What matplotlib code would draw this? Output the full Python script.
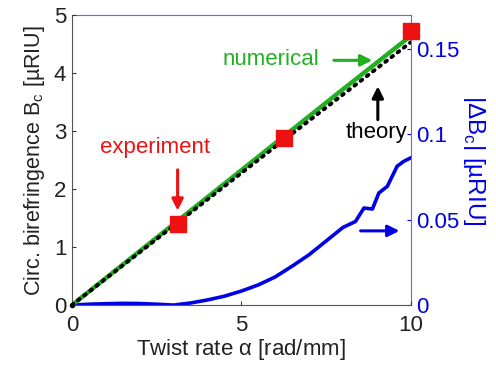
import matplotlib
matplotlib.use("Agg")
import matplotlib.pyplot as plt

plt.rcParams['font.family'] = ['Liberation Sans', 'DejaVu Sans']

# Data
exp_x = [3.14, 6.27, 10.0]
exp_y = [1.39, 2.88, 4.73]

num_x = [0, 2, 4, 6, 8, 10]
num_y = [0, 0.93, 1.86, 2.79, 3.72, 4.64]

theory_x = [0, 2, 4, 6, 8, 10]
theory_y = [0, 0.91, 1.82, 2.73, 3.63, 4.53]

diff_x = [0, 0.5, 1, 1.5, 2, 2.5, 3, 3.5, 4, 4.5, 5, 5.5, 6, 6.5, 7, 7.5, 8,
          8.37, 8.62, 8.87, 9.06, 9.31, 9.6, 9.8, 10]
diff_y = [0, 0.0005, 0.0008, 0.001, 0.0009, 0.0005, 0.0, 0.0012, 0.003, 0.0052,
          0.0082, 0.0118, 0.0165, 0.0228, 0.0295, 0.0375, 0.0455,
          0.049, 0.0569, 0.0563, 0.0657, 0.0696, 0.0814, 0.0843, 0.0863]

xticks = [0, 5, 10]
yticks_left = [0, 1, 2, 3, 4, 5]
yticks_right = [0, 0.05, 0.1, 0.15]
yticklabels_right = ['0', '0.05', '0.1', '0.15']

blue = '#0000e6'
green = '#22b022'
red = '#ee1111'

fig = plt.figure(figsize=(4.96, 3.68), dpi=100)
ax = fig.add_axes([0.145, 0.171, 0.683, 0.788])
ax2 = ax.twinx()

ax.plot(num_x, num_y, color=green, lw=3.2, zorder=3)
ax.plot(theory_x, theory_y, color='black', lw=2.8, ls=(0, (0.5, 1.5)), zorder=4,
        dash_capstyle='round')
ax.plot(exp_x, exp_y, ls='none', marker='s', ms=11.5, color=red, mec=red,
        clip_on=False, zorder=6)

ax2.plot(diff_x, diff_y, color=blue, lw=2.6, zorder=2)

ax.set_xlim(0, 10)
ax.set_ylim(0, 5)
ax2.set_ylim(0, 0.17)

ax.set_xticks(xticks)
ax.set_yticks(yticks_left)
ax2.set_yticks(yticks_right)
ax2.set_yticklabels(yticklabels_right)

ax.tick_params(direction='in', labelsize=16, length=3, colors='#333333',
               labelcolor='#222222')
ax.tick_params(axis='x', pad=7)
ax.tick_params(axis='y', pad=4)
ax2.tick_params(direction='in', labelsize=16, length=3, colors=blue,
                labelcolor=blue, pad=4)

for s in ['left', 'bottom']:
    ax.spines[s].set_color('#555555')
for s in ['top', 'right']:
    ax2.spines[s].set_color('#6666ff')
ax2.spines['left'].set_visible(False)
ax2.spines['bottom'].set_visible(False)
ax.spines['top'].set_visible(False)
ax.spines['right'].set_visible(False)

ax.set_xlabel(r'Twist rate $\mathregular{\alpha}$ [rad/mm]', fontsize=16, color='#222222', labelpad=1)
ax.set_ylabel(r'Circ. birefringence B$_\mathregular{c}$ [µRIU]', fontsize=15.5, color='#222222', labelpad=5)
ax2.set_ylabel(r'|ΔB$_\mathregular{c}$| [µRIU]', fontsize=17.5, color=blue, rotation=270,
               labelpad=20)

# Annotations
ax.text(2.45, 2.71, 'experiment', color=red, fontsize=16, ha='center', va='center')
ax.annotate('', xy=(3.12, 1.58), xytext=(3.12, 2.38),
            arrowprops=dict(arrowstyle='-|>', color=red, lw=2.2, mutation_scale=17))
ax.text(5.87, 4.24, 'numerical', color=green, fontsize=16, ha='center', va='center')
ax.annotate('', xy=(8.95, 4.22), xytext=(7.65, 4.22),
            arrowprops=dict(arrowstyle='-|>', color=green, lw=2.2, mutation_scale=17))
ax.text(9.0, 2.97, 'theory', color='black', fontsize=16, ha='center', va='center')
ax.annotate('', xy=(9.03, 3.82), xytext=(9.03, 3.15),
            arrowprops=dict(arrowstyle='-|>', color='black', lw=2.2, mutation_scale=17))
ax2.annotate('', xy=(9.75, 0.0435), xytext=(8.44, 0.0435),
             arrowprops=dict(arrowstyle='-|>', color=blue, lw=2.2, mutation_scale=17))

ax.set_zorder(ax2.get_zorder() + 1)
ax.patch.set_visible(False)
ax.plot([0], [0], 'o', color='black', ms=3, clip_on=False, zorder=7)

fig.savefig('out.png', dpi=100)
